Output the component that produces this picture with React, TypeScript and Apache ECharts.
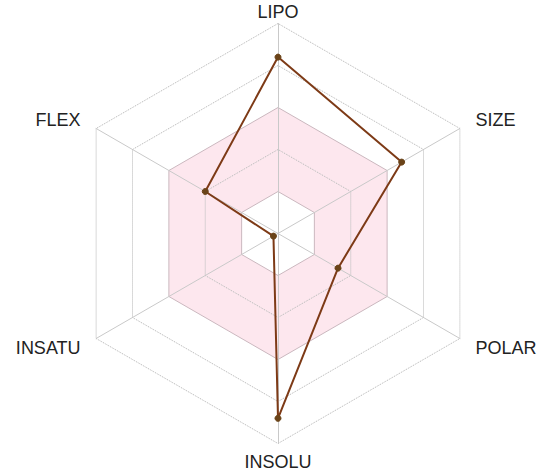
import React, { useEffect, useRef } from "react";
import * as echarts from "echarts";

// Indicators in ECharts order (counter-clockwise from top)
const indicators = ["LIPO", "FLEX", "INSATU", "INSOLU", "POLAR", "SIZE"];
const values = [0.84, 0.4, 0.025, 0.88, 0.33, 0.68];
const topBottom = ["LIPO", "INSOLU"];

const T = "rgba(0,0,0,0)";
const PINK = "#fde7ee";
const DOT = "#b4b4b4";
const SOLID = "#cbb8bf";

export default function App() {
  const ref = useRef<HTMLDivElement>(null);
  useEffect(() => {
    document.body.style.margin = "0";
    const chart = echarts.init(ref.current!, null, { renderer: "svg" });
    const ind = indicators.map((n) => ({ name: n, min: 0, max: 1 }));
    const nameStyle = {
      color: "#222",
      fontSize: 18,
      fontFamily: "Liberation Sans, Arial, sans-serif",
    };
    chart.setOption({
      animation: false,
      radar: [
        {
          center: [278, 233.5],
          radius: 210,
          startAngle: 90,
          splitNumber: 5,
          shape: "polygon",
          indicator: ind,
          nameGap: 18,
          axisName: {
            ...nameStyle,
            formatter: (n: string) => (topBottom.includes(n) ? "" : n),
          },
          axisLine: { show: true, lineStyle: { color: "#c9c9c9", width: 1 } },
          splitLine: {
            show: true,
            lineStyle: { type: "dotted", width: 1, color: [T, T, DOT, T, DOT, DOT] },
          },
          splitArea: {
            show: true,
            areaStyle: { color: [T, PINK, PINK, T, T] },
          },
        },
        {
          center: [278, 233.5],
          radius: 210,
          startAngle: 90,
          splitNumber: 5,
          shape: "polygon",
          indicator: ind,
          nameGap: 2,
          axisName: {
            ...nameStyle,
            formatter: (n: string) =>
              n === "LIPO" ? "{t|" + n + "}" : n === "INSOLU" ? "{b|" + n + "}" : "",
            rich: {
              t: { ...nameStyle, lineHeight: 20 },
              b: { ...nameStyle, lineHeight: 32 },
            },
          },
          axisLine: { show: false },
          splitLine: {
            show: true,
            lineStyle: { type: "solid", width: 1, color: [T, SOLID, T, SOLID, T, T] },
          },
          splitArea: { show: false },
        },
      ],
      series: [
        {
          type: "radar",
          radarIndex: 0,
          z: 5,
          symbol: "circle",
          symbolSize: 6,
          lineStyle: { color: "#7d3a16", width: 2 },
          itemStyle: { color: "#6a4318", borderColor: "#6a4318" },
          data: [{ value: values, name: "molecule" }],
        },
      ],
    });
    return () => chart.dispose();
  }, []);
  return <div ref={ref} style={{ width: 550, height: 473 }} />;
}
